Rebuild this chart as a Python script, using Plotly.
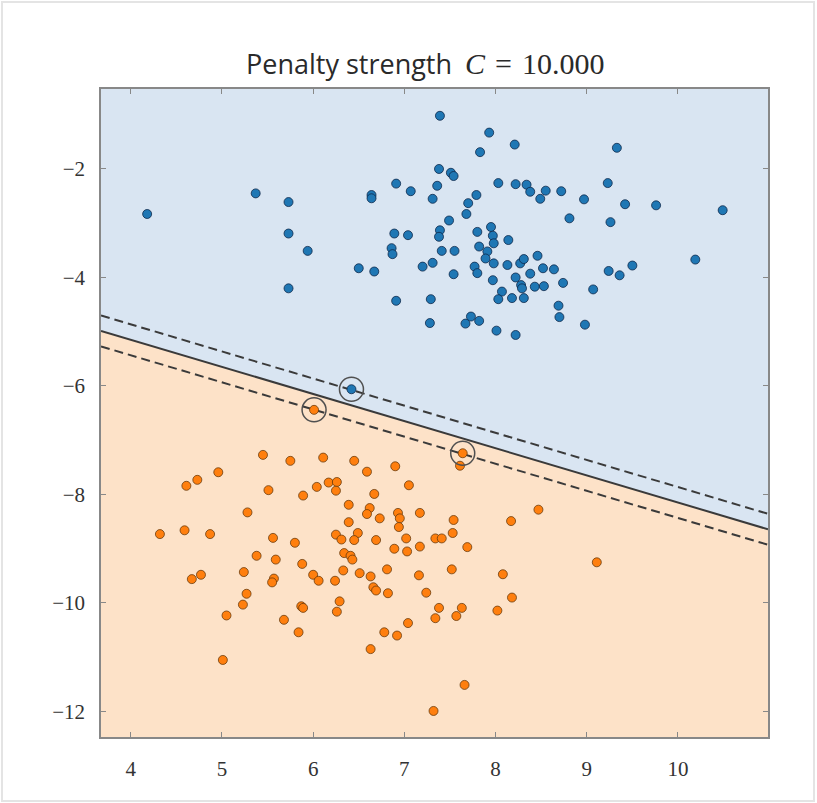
import plotly.graph_objects as go

# ---- data ----
blue_x = [4.18, 5.37, 5.73, 5.73, 5.94, 5.73, 6.50, 6.67, 6.64, 6.64, 6.91, 7.07, 6.89, 7.04, 6.86, 6.87,
          6.91, 7.20, 7.39, 7.93, 8.21, 7.83, 7.38, 7.51, 7.54, 7.36, 7.31, 8.03, 8.22, 8.34, 8.38, 8.49,
          8.55, 8.72, 8.97, 7.79, 7.70, 7.68, 8.81, 7.49, 7.39, 7.38, 7.41, 7.55, 7.80, 7.95, 7.97, 7.98,
          7.82, 7.91, 7.89, 7.98, 8.14, 8.13, 8.27, 8.31, 8.46, 8.52, 8.64, 8.74, 9.07, 7.31, 7.54, 7.77,
          7.80, 7.97, 8.22, 8.38, 8.28, 8.43, 8.53, 8.07, 8.03, 8.18, 8.31, 8.29, 7.29, 8.69, 8.70, 8.98,
          7.28, 7.67, 7.73, 7.82, 8.01, 8.22, 9.33, 9.23, 9.42, 9.76, 10.49, 9.26, 10.19, 9.50, 9.24, 9.36,
          6.42]
blue_y = [-2.83, -2.45, -2.61, -3.19, -3.51, -4.20, -3.83, -3.89, -2.48, -2.54, -2.27, -2.41, -3.19, -3.22, -3.46, -3.57,
          -4.43, -3.80, -1.02, -1.33, -1.55, -1.69, -2.00, -2.07, -2.13, -2.31, -2.55, -2.26, -2.28, -2.29, -2.42, -2.55,
          -2.40, -2.41, -2.56, -2.48, -2.63, -2.83, -2.91, -2.95, -3.13, -3.25, -3.51, -3.51, -3.16, -3.07, -3.23, -3.37,
          -3.43, -3.52, -3.65, -3.74, -3.31, -3.77, -3.74, -3.66, -3.60, -3.83, -3.85, -4.10, -4.22, -3.73, -3.94, -3.80,
          -3.92, -4.05, -4.00, -3.93, -4.14, -4.17, -4.16, -4.26, -4.40, -4.38, -4.38, -4.20, -4.40, -4.52, -4.73, -4.87,
          -4.84, -4.85, -4.72, -4.80, -4.98, -5.06, -1.61, -2.26, -2.65, -2.67, -2.76, -2.98, -3.67, -3.78, -3.88, -3.96,
          -6.06]

orange_x = [5.45, 5.75, 6.11, 6.45, 6.59, 6.90, 7.05, 4.96, 4.73, 4.61, 5.51, 5.89, 6.04, 6.17, 6.26, 6.25,
            5.28, 4.32, 4.59, 4.87, 5.56, 5.80, 6.25, 5.38, 5.59, 5.88, 4.67, 4.77, 5.24, 5.57, 5.55, 6.00,
            6.06, 6.24, 5.27, 5.23, 5.05, 5.87, 5.89, 6.26, 5.68, 5.84, 5.01, 6.67, 6.39, 6.62, 6.59, 6.73,
            6.93, 6.95, 6.94, 7.17, 7.54, 6.39, 6.31, 6.49, 6.45, 6.69, 7.02, 6.89, 7.03, 7.17, 7.34, 7.41,
            7.53, 7.69, 6.34, 6.41, 6.43, 6.33, 6.51, 6.63, 6.66, 6.69, 6.81, 6.82, 7.16, 7.52, 7.24, 6.29,
            7.38, 7.34, 7.63, 7.57, 8.02, 7.04, 6.78, 6.92, 6.63, 7.66, 7.32, 6.01, 7.64, 7.61, 8.47, 8.17,
            9.11, 8.08, 8.18]
orange_y = [-7.27, -7.38, -7.32, -7.38, -7.58, -7.48, -7.83, -7.59, -7.73, -7.84, -7.92, -8.02, -7.86, -7.78, -7.77, -7.93,
            -8.33, -8.73, -8.66, -8.73, -8.80, -8.89, -8.74, -9.13, -9.20, -9.28, -9.56, -9.48, -9.43, -9.55, -9.62, -9.48,
            -9.59, -9.59, -9.83, -10.03, -10.23, -10.06, -10.09, -10.16, -10.31, -10.54, -11.05, -7.99, -8.19, -8.25, -8.36, -8.44,
            -8.34, -8.44, -8.60, -8.34, -8.47, -8.51, -8.83, -8.71, -8.84, -8.84, -8.81, -9.00, -9.05, -8.96, -8.81, -8.81,
            -8.71, -8.97, -9.08, -9.13, -9.20, -9.40, -9.45, -9.51, -9.71, -9.77, -9.38, -9.82, -9.49, -9.38, -9.81, -9.97,
            -10.09, -10.28, -10.09, -10.24, -10.14, -10.37, -10.54, -10.60, -10.85, -11.51, -11.99, -6.44, -7.24, -7.47, -8.28, -8.49,
            -9.25, -9.47, -9.90]

sv_x = [6.42, 6.01, 7.64]
sv_y = [-6.06, -6.44, -7.24]

boundary_slope = -0.5
boundary_intercept = -3.148
margin_offset = 0.285

x_range = [3.674, 10.987]
y_range = [-12.47, -0.526]
x_ticks = [4, 5, 6, 7, 8, 9, 10]
y_ticks = [-2, -4, -6, -8, -10, -12]
y_ticktext = ["\u22122", "\u22124", "\u22126", "\u22128", "\u221210", "\u221212"]

title_words = "Penalty strength"
title_math = "<i>C</i>\u2004=\u200410.000"

SERIF = "Liberation Serif, DejaVu Serif, Times New Roman, serif"

# ---- derived geometry ----
def line_y(x, off=0.0):
    return boundary_intercept + off + boundary_slope * x

xl, xr = x_range
yb, yt = y_range

fig = go.Figure()

# decision regions
fig.add_trace(go.Scatter(
    x=[xl, xr, xr, xl], y=[line_y(xl), line_y(xr), yt, yt],
    fill="toself", fillcolor="#d9e5f2", mode="none", hoverinfo="skip", showlegend=False))
fig.add_trace(go.Scatter(
    x=[xl, xr, xr, xl], y=[line_y(xl), line_y(xr), yb, yb],
    fill="toself", fillcolor="#fde2c8", mode="none", hoverinfo="skip", showlegend=False))

# boundary and margins
for off, dash in [(margin_offset, "9px,5px"), (0.0, "solid"), (-margin_offset, "9px,5px")]:
    fig.add_trace(go.Scatter(
        x=[xl, xr], y=[line_y(xl, off), line_y(xr, off)], mode="lines",
        line=dict(color="#3a3a3a", width=2, dash=dash), hoverinfo="skip", showlegend=False))

# points
fig.add_trace(go.Scatter(
    x=blue_x, y=blue_y, mode="markers",
    marker=dict(size=9, color="#1f77b4", line=dict(color="rgba(10,35,70,0.85)", width=0.9)),
    showlegend=False))
fig.add_trace(go.Scatter(
    x=orange_x, y=orange_y, mode="markers",
    marker=dict(size=9, color="#ff7f0e", line=dict(color="rgba(100,55,10,0.85)", width=0.9)),
    showlegend=False))

# support vectors
fig.add_trace(go.Scatter(
    x=sv_x, y=sv_y, mode="markers",
    marker=dict(size=24, color="rgba(0,0,0,0)", line=dict(color="#505050", width=1.5)),
    showlegend=False))

axis_common = dict(
    showgrid=False, zeroline=False, showline=True, linecolor="#888888", linewidth=1.5,
    mirror="ticks", ticks="inside", ticklen=5, tickcolor="#888888", tickwidth=1.2,
    tickfont=dict(family=SERIF, size=21, color="#333333"),
)

# title built from a sans part and a serif (math) part
plot_w = 817 - 101 - 49
plot_h = 803 - 89 - 66
fig.add_annotation(text=title_words, xref="paper", yref="paper",
                   x=(454 - 101) / plot_w, y=1 + (89 - 64) / plot_h,
                   xanchor="right", yanchor="middle", showarrow=False,
                   font=dict(family="Open Sans", size=27, color="#2a2a2a"))
fig.add_annotation(text=title_math, xref="paper", yref="paper",
                   x=(463 - 101) / plot_w, y=1 + (89 - 64) / plot_h,
                   xanchor="left", yanchor="middle", showarrow=False,
                   font=dict(family=SERIF, size=30, color="#2a2a2a"))

# faint frame around the whole picture
fig.add_shape(type="rect", xref="paper", yref="paper", layer="above",
              x0=(2 - 101) / plot_w, x1=(814 - 101) / plot_w,
              y0=-(801 - 89 - plot_h) / plot_h, y1=1 + (89 - 2) / plot_h,
              line=dict(color="#e4e4e4", width=2))

fig.update_layout(
    width=817, height=803,
    margin=dict(l=101, r=49, t=89, b=66),
    paper_bgcolor="white", plot_bgcolor="white",
    xaxis=dict(range=x_range, tickvals=x_ticks, ticklabelstandoff=12, **axis_common),
    yaxis=dict(range=y_range, tickvals=y_ticks, ticktext=y_ticktext, ticklabelstandoff=10, **axis_common),
)

fig.write_html("out.html")
